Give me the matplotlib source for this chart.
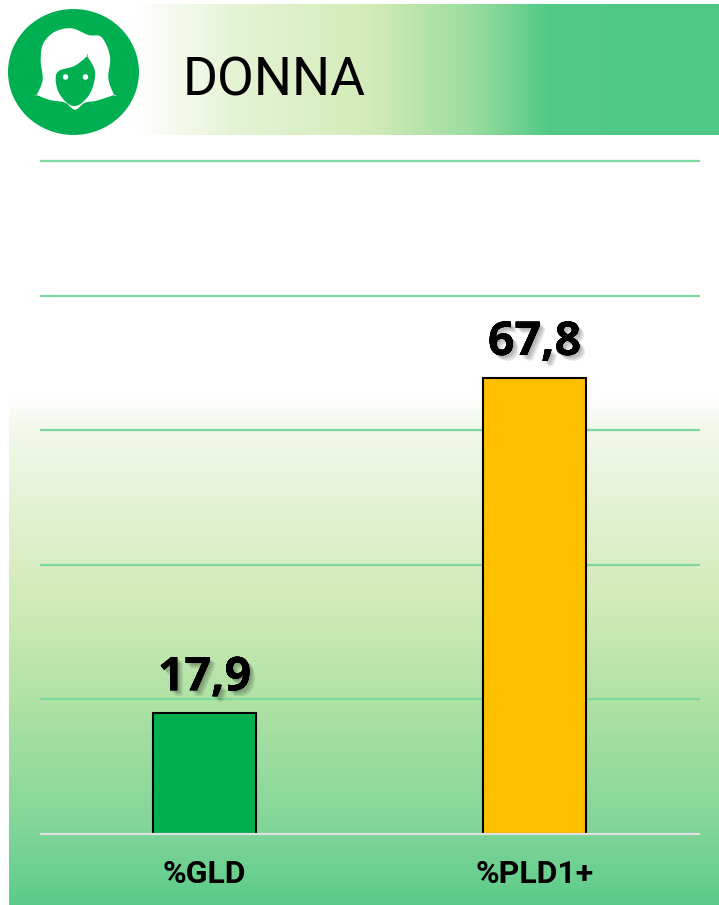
import matplotlib
matplotlib.use("Agg")
import matplotlib.pyplot as plt
import matplotlib.patheffects as pe
from matplotlib.colors import to_rgb
from matplotlib.patches import Ellipse, Polygon
import numpy as np

W, H = 719, 905

categories = ["%GLD", "%PLD1+"]
values = [17.9, 67.8]
value_labels = ["17,9", "67,8"]
bar_colors = ["#00B050", "#FFC000"]
yticks = [20, 40, 60, 80, 100]

# outlines read from the 3x zoom, doubled points keep the corners sharp
hair = [(110, 285), (110, 285), (128, 240), (122, 180), (130, 130), (165, 95), (215, 85), (265, 105),
        (305, 112), (330, 170), (325, 235), (342, 285), (342, 285), (290, 302), (255, 308), (225, 329),
        (195, 308), (150, 300)]
face = [(262, 168), (262, 168), (285, 215), (275, 270), (250, 305), (225, 318), (200, 308), (175, 275),
        (167, 235), (178, 212), (225, 197)]


def smooth(points, n=12):
    # closed catmull-rom through the points
    pts = np.array(points, dtype=float) / 3
    out = []
    for i in range(len(pts)):
        p0, p1, p2, p3 = pts[i - 1], pts[i], pts[(i + 1) % len(pts)], pts[(i + 2) % len(pts)]
        for t in np.linspace(0, 1, n, endpoint=False):
            out.append(0.5 * (2 * p1 + (p2 - p0) * t + (2 * p0 - 5 * p1 + 4 * p2 - p3) * t ** 2
                              + (3 * p1 - p0 - 3 * p2 + p3) * t ** 3))
    return np.array(out)


def grad(stops, n=900):
    pos = [s[0] for s in stops]
    cols = np.array([to_rgb(s[1]) for s in stops])
    x = np.linspace(pos[0], pos[-1], n)
    return np.stack([np.interp(x, pos, cols[:, i]) for i in range(3)], axis=-1)


fig = plt.figure(figsize=(W / 100, H / 100), dpi=100, facecolor="white")

# pixel canvas for the backgrounds and the header
bg = fig.add_axes([0, 0, 1, 1])
bg.axis("off")

body = grad([(395, "#ffffff"), (430, "#f2f8ea"), (600, "#d2ebb8"), (700, "#b0e2a4"), (830, "#80d698"), (905, "#5ccb8a")])
bg.imshow(body[:, None, :], extent=[9, W, 905, 395], aspect="auto", interpolation="bilinear")

head = grad([(135, "#ffffff"), (230, "#e6f4d6"), (370, "#d3ebb8"), (470, "#9cdda0"), (550, "#50ca86"), (719, "#4dc985")])
bg.imshow(head[None, :, :], extent=[135, W, 135, 4], aspect="auto", interpolation="bilinear")
bg.set_xlim(0, W)
bg.set_ylim(H, 0)

bg.add_patch(Ellipse((73.5, 72), 131, 126, fc="#00B050", ec="none"))
bg.add_patch(Polygon(smooth(hair), fc="white", ec="none"))
bg.add_patch(Polygon(smooth(face), fc="#00B050", ec="none"))
bg.add_patch(Ellipse((65.5, 77), 5.5, 5.5, fc="white", ec="none"))
bg.add_patch(Ellipse((85.5, 77), 5.5, 5.5, fc="white", ec="none"))
bg.text(183, 81, "DONNA", fontsize=38.5, family="Roboto", color="black", va="center", ha="left")

# chart
ax = fig.add_axes([39.5 / W, 1 - 833.5 / H, 660 / W, 672 / H])
ax.patch.set_alpha(0)
ax.set_xlim(-0.5, 1.5)
ax.set_ylim(0, 100)
ax.set_yticks(yticks)
ax.yaxis.grid(True, color="#7fd8a0", linewidth=1.6, clip_on=False, solid_capstyle="butt")
ax.set_axisbelow(True)
ax.tick_params(left=False, bottom=False, labelleft=False)
for name in ["top", "left", "right"]:
    ax.spines[name].set_visible(False)
ax.spines["bottom"].set_color("#e0e0e0")
ax.spines["bottom"].set_linewidth(1.6)
ax.spines["bottom"].set_capstyle("butt")

x = np.arange(len(categories))
ax.bar(x, values, width=0.313, color=bar_colors, edgecolor="black", linewidth=1.5)
ax.set_xticks(x, categories, family="Roboto", fontweight="bold", fontsize=23, color="black")
ax.tick_params(axis="x", pad=15)

shadow = [pe.withSimplePatchShadow(offset=(o, -o), shadow_rgbFace="black", alpha=0.09) for o in (1, 2, 3, 4)]
for xi, v, lab in zip(x, values, value_labels):
    ax.annotate(lab, (xi, v), xytext=(0, 12), textcoords="offset pixels", ha="center", va="bottom",
                family="Open Sans", fontweight="bold", fontsize=33.5, color="black",
                path_effects=shadow + [pe.Normal()])

fig.savefig("out.png", dpi=100)
